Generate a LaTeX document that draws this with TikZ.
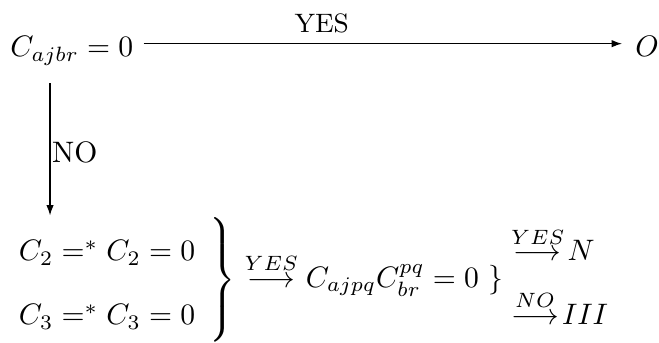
\documentclass[tikz,border=0pt]{standalone}
\usepackage{amsmath}
\usetikzlibrary{arrows.meta}

\begin{document}
\begin{tikzpicture}[
      x=0.3378pt, y=-0.3378pt,
      expr/.style={inner sep=3.33pt},
      flow/.style={-{Latex[length=3.5pt,width=2.5pt]}, line width=0.4pt},
      answer/.style={font=\small, inner sep=3.33pt}
    ]
    \useasboundingbox (0,0) rectangle (659,343);

    \node[expr, anchor=base west] (top) at (0,57) {$C_{ajbr} = 0$};
    \node[expr, anchor=base west] (O) at (625,57) {$O$};
    \node[inner sep=0pt, anchor=west] (bottom) at (0,280) {%
      $\renewcommand{\arraystretch}{1.8}%
      \left.\begin{array}{l}
        C_2 =^* C_2 = 0\\
        C_3 =^* C_3 = 0
      \end{array}\right\}
      \stackrel{YES}{\longrightarrow} C_{ajpq}C^{pq}_{br} = 0\ \}
      {\arraycolsep=2.5pt
      \begin{array}{l}
        \stackrel{YES}{\longrightarrow}\! N\\
        \stackrel{NO}{\longrightarrow}\! III
      \end{array}}$};

    \draw[flow, shorten >=1pt] ([yshift=4.5pt]top.base east) --
      node[answer, above, pos=0.37] (yes) {YES} ([yshift=4.5pt]O.base west);
    \draw[flow, shorten <=2.5pt] ([xshift=16.9pt]top.south west) --
      node[right, inner sep=0.5pt, pos=0.55] (no) {NO}
      ([xshift=16.9pt]top.south west |- bottom.north);
  \end{tikzpicture}
\end{document}
